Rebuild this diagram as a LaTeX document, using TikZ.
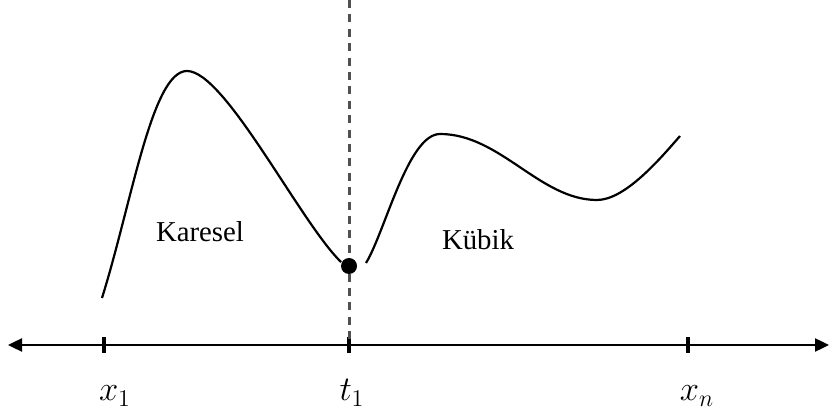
\documentclass[tikz,border=0pt]{standalone}
\usepackage{fontspec}
\setmainfont{Liberation Serif}
\usepackage{xcolor}
\usetikzlibrary{arrows.meta,positioning}
\definecolor{ink}{HTML}{000000}
\definecolor{dashgray}{HTML}{505050}

\begin{document}
\begin{tikzpicture}[
  x=0.5pt,y=0.5pt,
  axis/.style={{Triangle[length=7pt,width=6.5pt]}-{Triangle[length=7pt,width=6.5pt]},line width=1.2pt,draw=ink},
  tickmark/.style={line width=1.6pt,draw=ink},
  curve/.style={line width=1.1pt,draw=ink},
  divider/.style={line width=1.5pt,draw=dashgray,dash pattern=on 4pt off 3.2pt},
  region/.style={font=\fontsize{14.4}{16}\selectfont,inner sep=0pt},
  ticklabel/.style={font=\fontsize{18}{20}\selectfont,inner sep=0pt,anchor=base}
]
\useasboundingbox (0,0) rectangle (829,417);

% axis
\coordinate (left) at (8,72);
\coordinate (right) at (829,72);
\draw[axis] (left) -- (right);

% ticks
\coordinate (x1) at (104,72);
\coordinate (t1) at (349,72);
\coordinate (xn) at (688,72);
\foreach \t in {x1,t1,xn}
  \draw[tickmark] ([yshift=-4pt]\t) -- ([yshift=4pt]\t);

\node[ticklabel] (lx1) at (115,16) {$x_1$};
\node[ticklabel] (lt1) at (352,16) {$t_1$};
\node[ticklabel] (lxn) at (697,16) {$x_n$};

% split line
\coordinate (top) at (349,417);
\draw[divider] (top) -- (t1);

% quadratic part
\draw[curve] (102,119) .. controls (132,215) and (152,346) .. (187,346)
  .. controls (225,346) and (300,195) .. (341,155);
% cubic part
\draw[curve] (366,154) .. controls (385,185) and (408,283) .. (440,283)
  .. controls (500,283) and (540,217) .. (597,217)
  .. controls (625,217) and (660,258) .. (680,281);

\node[circle,fill=ink,inner sep=0pt,minimum size=8pt] (knot) at (349,151) {};

\node[region] (kar) at (200,185) {Karesel};
\node[region] (kub) at (478,177) {Kübik};
\end{tikzpicture}
\end{document}
